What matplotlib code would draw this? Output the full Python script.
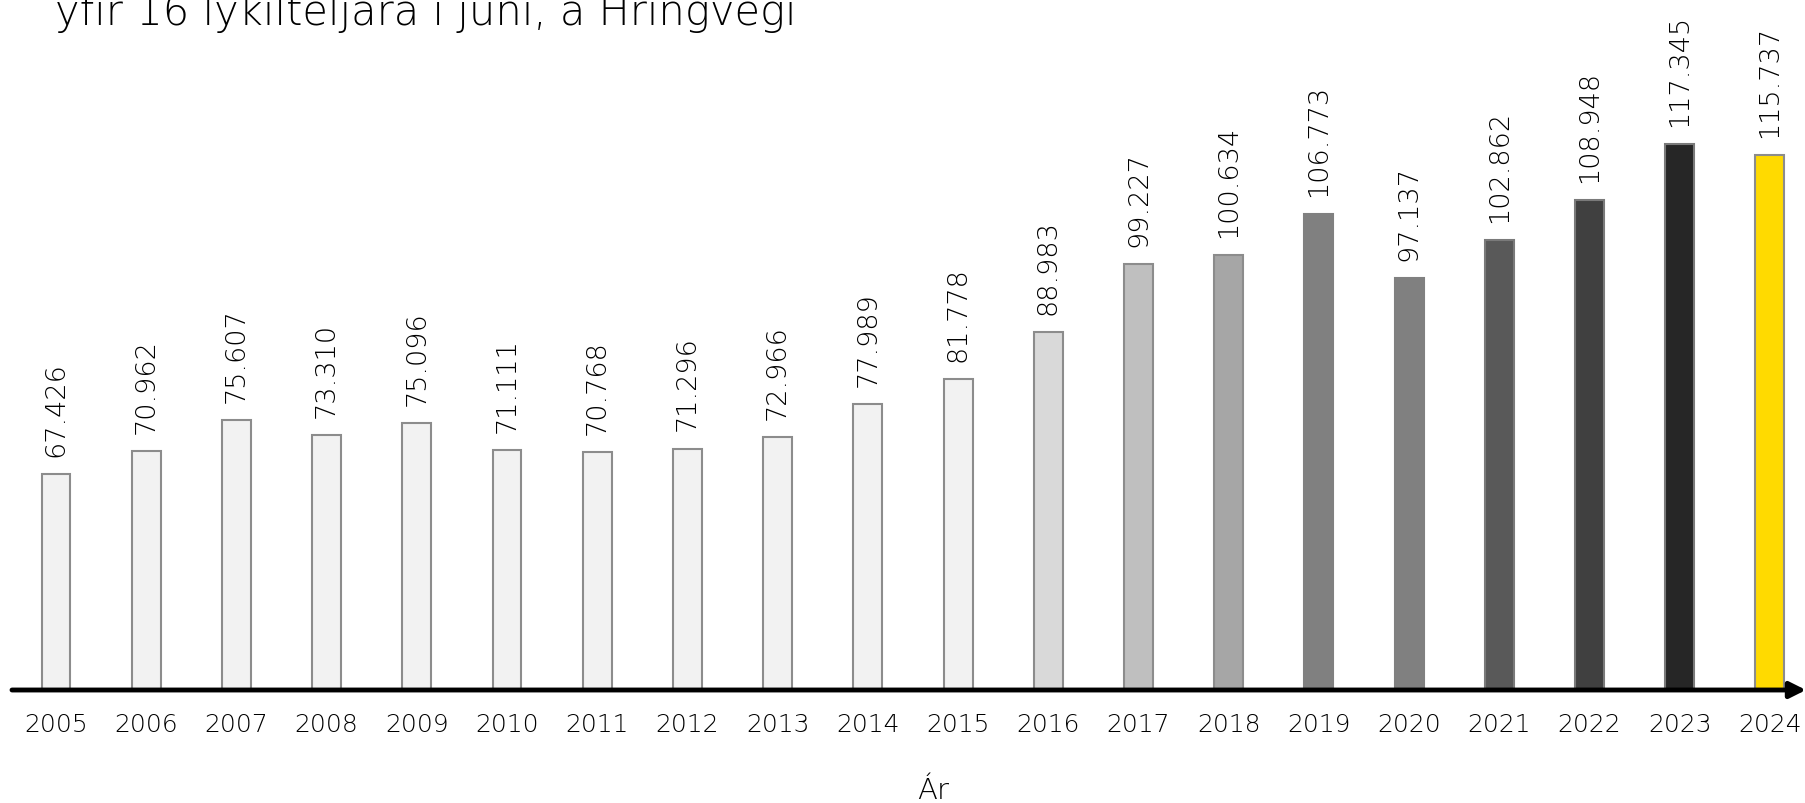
import matplotlib
matplotlib.use("Agg")
import matplotlib.pyplot as plt

years = [str(y) for y in range(2005, 2025)]
traffic = [67426, 70962, 75607, 73310, 75096, 71111, 70768, 71296, 72966, 77989,
           81778, 88983, 99227, 100634, 106773, 97137, 102862, 108948, 117345, 115737]
bar_colors = ["#F2F2F2"] * 11 + ["#D9D9D9", "#BFBFBF", "#A6A6A6", "#808080", "#808080",
                                 "#595959", "#404040", "#262626", "#FFDA00"]
edge_colors = ["#8C8C8C"] * 14 + ["#808080", "#808080", "#7A7A7A", "#7A7A7A",
                                  "#7A7A7A", "#8C8C8C"]

TEXT_COLOR = "#000000"
FONT = ["DejaVu Sans"]

fig = plt.figure(figsize=(18.06, 8.04), dpi=100)
ax = fig.add_axes([12 / 1806, 113 / 804, 1 - 12 / 1806, 691 / 804])

x = list(range(len(years)))
ax.bar(x, traffic, width=0.32, color=bar_colors, edgecolor=edge_colors,
       linewidth=1.5, zorder=2)

for xi, v in zip(x, traffic):
    ax.annotate(f"{v:,}".replace(",", "."), (xi, v), xytext=(0, 13),
                textcoords="offset points", rotation=90, ha="center", va="bottom",
                fontsize=19.5, color=TEXT_COLOR, family=FONT, fontweight="light")

ax.set_xlim(-0.488, 19.4)
ax.set_ylim(34760, 139300)
ax.set_xticks(x)
ax.set_xticklabels(years, fontsize=18, color=TEXT_COLOR, family=FONT,
                   fontweight="light")
ax.tick_params(axis="x", length=0, pad=16)
ax.set_yticks([])
for s in ax.spines.values():
    s.set_visible(False)

# axis line with arrow head
ax.annotate("", xy=(1.0, 0), xytext=(0, 0), xycoords="axes fraction",
            arrowprops=dict(arrowstyle="-|>", color="black", lw=3.5,
                            mutation_scale=24, shrinkA=0, shrinkB=0), zorder=3)

fig.text(933 / 1806, 5 / 804, "Ár", ha="center", va="baseline", fontsize=21,
         color=TEXT_COLOR, family=FONT, fontweight="light")

fig.text(55 / 1806, 1 - 25 / 804, "yfir 16 lykilteljara í júní, á Hringvegi",
         ha="left", va="baseline", fontsize=30, color="black", family=FONT,
         fontweight="light")

fig.savefig("out.png", dpi=100)
